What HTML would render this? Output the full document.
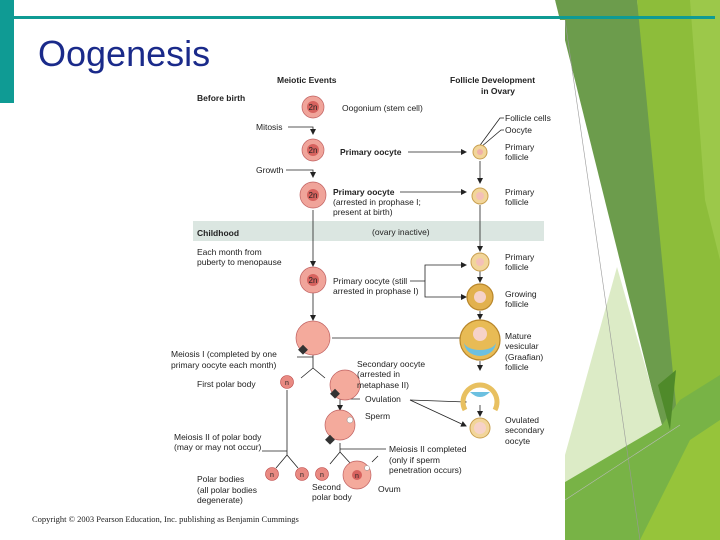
<!DOCTYPE html>
<html><head><style>
body{margin:0;background:#fff;}
svg{display:block;}
.t{font-family:"Liberation Sans",sans-serif;font-size:8.5px;fill:#222;}
.b{font-weight:bold;}
</style></head><body>
<svg width="720" height="540" viewBox="0 0 720 540" xmlns="http://www.w3.org/2000/svg">
<defs>
<marker id="a" markerWidth="6" markerHeight="6" refX="5" refY="3" orient="auto" markerUnits="userSpaceOnUse"><path d="M0,0 L6,3 L0,6z" fill="#222"/></marker>
</defs>
<polygon points="637,0 720,0 720,540 630,540 662,425" fill="#8dbd3a"/>
<polygon points="690,0 720,0 720,260 705,200" fill="#9cc84a"/>
<polygon points="555,0 637,0 676,405 662,430" fill="#6c9c4c"/>
<polygon points="617,267 662,425 565,482 565,455" fill="#dcebc6"/>
<polygon points="565,482 662,425 680,400 720,375 720,540 565,540" fill="#78b346"/>
<polygon points="640,540 690,440 720,420 720,540" fill="#96c43a"/>
<polygon points="658,385 676,370 670,430" fill="#4f8a2a"/>
<line x1="565" y1="20" x2="640" y2="540" stroke="#999" stroke-width="0.6"/>
<line x1="565" y1="500" x2="680" y2="425" stroke="#bbb" stroke-width="0.6"/>
<rect x="0" y="20" width="565" height="490" fill="#fff"/>
<polygon points="0,0 555,0 558,20 0,20" fill="#fff"/>
<rect x="0" y="0" width="14" height="103" fill="#0f9b94"/>
<rect x="14" y="16" width="701" height="3" fill="#0f9b94"/>
<text x="38" y="66" font-family="Liberation Sans,sans-serif" font-size="36" fill="#1a2a8a">Oogenesis</text>

<text class="t b" x="277" y="83">Meiotic Events</text>
<text class="t b" x="450" y="83">Follicle Development</text>
<text class="t b" x="481" y="94">in Ovary</text>
<text class="t b" x="197" y="101">Before birth</text>

<rect x="193" y="221" width="351" height="20" fill="#dbe6e1"/>
<text class="t b" x="197" y="236">Childhood</text>
<text class="t" x="372" y="235">(ovary inactive)</text>
<text class="t" x="197" y="255">Each month from</text>
<text class="t" x="197" y="265">puberty to menopause</text>

<g stroke="#222" stroke-width="0.8" fill="none">
<path d="M288,127 H313 V134" marker-end="url(#a)"/>
<path d="M286,170 H313 V177" marker-end="url(#a)"/>
<path d="M313,210 V266" marker-end="url(#a)"/>
<path d="M313,293 V320" marker-end="url(#a)"/>
<path d="M408,152 H466" marker-end="url(#a)"/>
<path d="M400,192 H466" marker-end="url(#a)"/>
<path d="M410,281 H425 V297 H466" marker-end="url(#a)"/>
<path d="M425,281 V265 H466" marker-end="url(#a)"/>
<path d="M332,338 H466" marker-end="url(#a)"/>
<path d="M480,161 V183" marker-end="url(#a)"/>
<path d="M480,205 V251" marker-end="url(#a)"/>
<path d="M480,271 V282" marker-end="url(#a)"/>
<path d="M480,311 V319" marker-end="url(#a)"/>
<path d="M480,361 V370" marker-end="url(#a)"/>
<path d="M480,405 V416" marker-end="url(#a)"/>
<path d="M478,148 L500,118 H504 M481,147 L501,130 H504"/>
<path d="M297,357 H313 M313,355 V368 L301,378 M313,368 L325,378"/>
<path d="M287,390 V455 L276,468 M287,455 L298,468 M262,451 H287"/>
<path d="M360,399 H340 V410" marker-end="url(#a)"/>
<path d="M410,400 L466,402" marker-end="url(#a)"/>
<path d="M410,400 L466,426" marker-end="url(#a)"/>
<path d="M340,443 V452 L330,464 M340,452 L351,464 M340,449 H386"/>
<path d="M372,462 L378,456"/>
</g>

<g>
<circle cx="313" cy="107" r="11" fill="#f0a49a" stroke="#c06060" stroke-width="0.7"/><circle cx="313" cy="107" r="6" fill="#d7625e"/>
<circle cx="313" cy="150" r="11" fill="#f0a49a" stroke="#c06060" stroke-width="0.7"/><circle cx="313" cy="150" r="6" fill="#d7625e"/>
<circle cx="313" cy="195" r="13" fill="#f0a49a" stroke="#c06060" stroke-width="0.7"/><circle cx="313" cy="195" r="6" fill="#d7625e"/>
<circle cx="313" cy="280" r="13" fill="#f0a49a" stroke="#c06060" stroke-width="0.7"/><circle cx="313" cy="280" r="6" fill="#d7625e"/>
<circle cx="313" cy="338" r="17" fill="#f4aa9c" stroke="#c06060" stroke-width="0.7"/>
<rect x="300" y="346" width="7" height="7" fill="#333" transform="rotate(45 303 349)"/>
<circle cx="345" cy="385" r="15" fill="#f4aa9c" stroke="#c06060" stroke-width="0.7"/>
<rect x="332" y="390" width="7" height="7" fill="#333" transform="rotate(45 335 393)"/>
<circle cx="340" cy="425" r="15" fill="#f4aa9c" stroke="#c06060" stroke-width="0.7"/>
<circle cx="350" cy="420" r="3" fill="#fff" stroke="#888" stroke-width="0.5"/>
<rect x="327" y="436" width="7" height="7" fill="#333" transform="rotate(45 330 439)"/>
<circle cx="357" cy="475" r="14" fill="#f4aa9c" stroke="#c06060" stroke-width="0.7"/>
<circle cx="367" cy="468" r="2.5" fill="#fff" stroke="#888" stroke-width="0.5"/>
</g>
<g font-family="Liberation Sans,sans-serif" font-size="8" fill="#222" text-anchor="middle">
<text x="313" y="110">2n</text><text x="313" y="153">2n</text><text x="313" y="198">2n</text><text x="313" y="283">2n</text>
</g>
<g>
<circle cx="287" cy="382" r="6.5" fill="#e98a82" stroke="#b44" stroke-width="0.6"/>
<circle cx="272" cy="474" r="6.5" fill="#e98a82" stroke="#b44" stroke-width="0.6"/>
<circle cx="302" cy="474" r="6.5" fill="#e98a82" stroke="#b44" stroke-width="0.6"/>
<circle cx="322" cy="474" r="6.5" fill="#e98a82" stroke="#b44" stroke-width="0.6"/>
<circle cx="357" cy="475" r="5" fill="#d7625e"/>
</g>
<g font-family="Liberation Sans,sans-serif" font-size="7" fill="#222" text-anchor="middle">
<text x="287" y="385">n</text><text x="272" y="477">n</text><text x="302" y="477">n</text><text x="322" y="477">n</text><text x="357" y="478">n</text>
</g>
<circle cx="480" cy="152" r="7" fill="#f2d59a" stroke="#c9a050" stroke-width="1"/><circle cx="480" cy="152" r="3" fill="#f0b0a8"/>
<circle cx="480" cy="196" r="8" fill="#f2d59a" stroke="#c9a050" stroke-width="1"/><circle cx="480" cy="196" r="4" fill="#f4c0b8"/>
<circle cx="480" cy="262" r="9" fill="#f2d59a" stroke="#c9a050" stroke-width="1"/><circle cx="480" cy="262" r="4" fill="#f4c0b8"/>
<circle cx="480" cy="297" r="13" fill="#e2b14e" stroke="#b8862a" stroke-width="1.2"/><circle cx="480" cy="297" r="6" fill="#f6d2c8"/>
<circle cx="480" cy="340" r="20" fill="#e8bb55" stroke="#b8862a" stroke-width="1.2"/>
<path d="M464,342 A16,14 0 0 0 496,342 A16,8 0 0 1 464,342z" fill="#6cc0e0"/>
<circle cx="480" cy="334" r="7" fill="#f6d2c8"/>
<path d="M465,410 A17,17 0 1 1 495,410" fill="none" stroke="#e8c060" stroke-width="5"/>
<path d="M470,392 Q480,402 490,392 Z" fill="#6cc0e0"/>
<circle cx="480" cy="428" r="10" fill="#f2d59a" stroke="#c9a050" stroke-width="1"/><circle cx="480" cy="428" r="6" fill="#f6d2c8"/>

<g class="t">
<text x="342" y="111">Oogonium (stem cell)</text>
<text x="256" y="130">Mitosis</text>
<text x="340" y="155" class="b">Primary oocyte</text>
<text x="256" y="173">Growth</text>
<text x="333" y="195" class="b">Primary oocyte</text>
<text x="333" y="205">(arrested in prophase I;</text>
<text x="333" y="215">present at birth)</text>
<text x="505" y="121">Follicle cells</text>
<text x="505" y="133">Oocyte</text>
<text x="505" y="150">Primary</text><text x="505" y="160">follicle</text>
<text x="505" y="195">Primary</text><text x="505" y="205">follicle</text>
<text x="505" y="260">Primary</text><text x="505" y="270">follicle</text>
<text x="333" y="284">Primary oocyte (still</text>
<text x="333" y="294">arrested in prophase I)</text>
<text x="505" y="297">Growing</text><text x="505" y="307">follicle</text>
<text x="505" y="339">Mature</text><text x="505" y="349">vesicular</text><text x="505" y="360">(Graafian)</text><text x="505" y="370">follicle</text>
<text x="171" y="357">Meiosis I (completed by one</text>
<text x="171" y="368">primary oocyte each month)</text>
<text x="197" y="387">First polar body</text>
<text x="357" y="367">Secondary oocyte</text>
<text x="357" y="377">(arrested in</text>
<text x="357" y="388">metaphase II)</text>
<text x="365" y="402">Ovulation</text>
<text x="365" y="419">Sperm</text>
<text x="505" y="423">Ovulated</text><text x="505" y="433">secondary</text><text x="505" y="444">oocyte</text>
<text x="174" y="440">Meiosis II of polar body</text>
<text x="174" y="450">(may or may not occur)</text>
<text x="389" y="452">Meiosis II completed</text>
<text x="389" y="463">(only if sperm</text>
<text x="389" y="473">penetration occurs)</text>
<text x="197" y="482">Polar bodies</text>
<text x="197" y="493">(all polar bodies</text>
<text x="197" y="503">degenerate)</text>
<text x="312" y="490">Second</text>
<text x="312" y="500">polar body</text>
<text x="378" y="492">Ovum</text>
</g>
<text x="32" y="522" font-family="Liberation Serif,serif" font-size="8.5" fill="#222">Copyright © 2003 Pearson Education, Inc. publishing as Benjamin Cummings</text>
</svg>
</body></html>
